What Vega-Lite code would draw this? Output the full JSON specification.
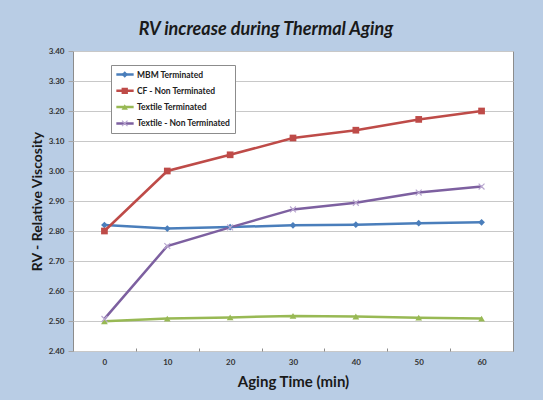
{
  "$schema": "https://vega.github.io/schema/vega-lite/v6.json",
  "width": 440,
  "height": 300,
  "autosize": {"type": "none"},
  "padding": {"left": 73, "top": 51, "right": 30, "bottom": 49},
  "background": "#b9cde5",
  "title": {
    "text": "RV increase during Thermal Aging",
    "font": "Lato",
    "fontSize": 18,
    "fontWeight": "bold",
    "fontStyle": "italic",
    "color": "#1a1a1a",
    "anchor": "middle",
    "dx": -27,
    "offset": 8
  },
  "config": {
    "view": {"fill": "white", "stroke": "#8c8c8c", "strokeWidth": 1},
    "font": "Lato"
  },
  "data": {
    "values": [
      {"t": 0, "series": "MBM Terminated", "rv": 2.82},
      {"t": 10, "series": "MBM Terminated", "rv": 2.808},
      {"t": 20, "series": "MBM Terminated", "rv": 2.813},
      {"t": 30, "series": "MBM Terminated", "rv": 2.819},
      {"t": 40, "series": "MBM Terminated", "rv": 2.821},
      {"t": 50, "series": "MBM Terminated", "rv": 2.826},
      {"t": 60, "series": "MBM Terminated", "rv": 2.829},
      {"t": 0, "series": "CF - Non Terminated", "rv": 2.80},
      {"t": 10, "series": "CF - Non Terminated", "rv": 3.00},
      {"t": 20, "series": "CF - Non Terminated", "rv": 3.054},
      {"t": 30, "series": "CF - Non Terminated", "rv": 3.11},
      {"t": 40, "series": "CF - Non Terminated", "rv": 3.136},
      {"t": 50, "series": "CF - Non Terminated", "rv": 3.172},
      {"t": 60, "series": "CF - Non Terminated", "rv": 3.20},
      {"t": 0, "series": "Textile Terminated", "rv": 2.499},
      {"t": 10, "series": "Textile Terminated", "rv": 2.508},
      {"t": 20, "series": "Textile Terminated", "rv": 2.512},
      {"t": 30, "series": "Textile Terminated", "rv": 2.517},
      {"t": 40, "series": "Textile Terminated", "rv": 2.515},
      {"t": 50, "series": "Textile Terminated", "rv": 2.511},
      {"t": 60, "series": "Textile Terminated", "rv": 2.508},
      {"t": 0, "series": "Textile - Non Terminated", "rv": 2.507},
      {"t": 10, "series": "Textile - Non Terminated", "rv": 2.75},
      {"t": 20, "series": "Textile - Non Terminated", "rv": 2.812},
      {"t": 30, "series": "Textile - Non Terminated", "rv": 2.872},
      {"t": 40, "series": "Textile - Non Terminated", "rv": 2.894},
      {"t": 50, "series": "Textile - Non Terminated", "rv": 2.928},
      {"t": 60, "series": "Textile - Non Terminated", "rv": 2.948}
    ]
  },
  "encoding": {
    "x": {
      "field": "t",
      "type": "ordinal",
      "scale": {"type": "band", "paddingInner": 0, "paddingOuter": 0},
      "axis": {
        "title": "Aging Time (min)",
        "titleFont": "Lato",
        "titleFontSize": 15,
        "titleFontWeight": "bold",
        "titleColor": "#1a1a1a",
        "titlePadding": 8,
        "labelAngle": 0,
        "labelFont": "Lato",
        "labelFontSize": 8,
        "labelFontWeight": "bold",
        "labelColor": "#333333",
        "labelPadding": 10,
        "tickBand": "extent",
        "tickSize": -3,
        "tickColor": "#8c8c8c",
        "domain": false,
        "grid": false
      }
    },
    "y": {
      "field": "rv",
      "type": "quantitative",
      "scale": {"domain": [2.4, 3.4], "nice": false, "zero": false},
      "axis": {
        "title": "RV - Relative Viscosity",
        "titleFont": "Lato",
        "titleFontSize": 14,
        "titleFontWeight": "bold",
        "titleColor": "#1a1a1a",
        "titlePadding": 4,
        "values": [2.4, 2.5, 2.6, 2.7, 2.8, 2.9, 3.0, 3.1, 3.2, 3.3, 3.4],
        "format": ".2f",
        "labelFont": "Lato",
        "labelFontSize": 8,
        "labelFontWeight": "bold",
        "labelColor": "#333333",
        "labelPadding": 4,
        "tickSize": 5,
        "tickColor": "#a6a6a6",
        "gridColor": "#c8c8c8",
        "domain": false
      }
    }
  },
  "layer": [
    {
      "mark": {"type": "line", "strokeWidth": 2.5},
      "encoding": {
        "color": {
          "field": "series",
          "type": "nominal",
          "sort": ["MBM Terminated", "CF - Non Terminated", "Textile Terminated", "Textile - Non Terminated"],
          "scale": {
            "domain": ["MBM Terminated", "CF - Non Terminated", "Textile Terminated", "Textile - Non Terminated"],
            "range": ["#4a7ebb", "#be4b48", "#98b954", "#7d60a0"]
          },
          "legend": {
            "title": null,
            "orient": "none",
            "legendX": 38,
            "legendY": 14,
            "symbolType": "stroke",
            "symbolSize": 300,
            "symbolStrokeWidth": 2.5,
            "labelFont": "Lato",
            "labelFontSize": 8.5,
            "labelFontWeight": "bold",
            "labelColor": "#222222",
            "labelOffset": 2,
            "clipHeight": 11,
            "rowPadding": 5.3,
            "padding": 4,
            "fillColor": "white",
            "strokeColor": "#8c8c8c"
          }
        }
      }
    },
    {
      "mark": {"type": "point", "filled": true, "opacity": 1},
      "encoding": {
        "color": {
          "field": "series",
          "type": "nominal",
          "sort": ["MBM Terminated", "CF - Non Terminated", "Textile Terminated", "Textile - Non Terminated"],
          "scale": {
            "domain": ["MBM Terminated", "CF - Non Terminated", "Textile Terminated", "Textile - Non Terminated"],
            "range": ["#4a7ebb", "#be4b48", "#98b954", "#b9a7d0"]
          },
          "legend": {
            "title": null,
            "orient": "none",
            "legendX": 38,
            "legendY": 14,
            "symbolSize": 40,
            "symbolOffset": 5.5,
            "labelExpr": "''",
            "labelFontSize": 8.5,
            "clipHeight": 11,
            "rowPadding": 5.3,
            "padding": 4
          }
        },
        "shape": {
          "field": "series",
          "type": "nominal",
          "sort": ["MBM Terminated", "CF - Non Terminated", "Textile Terminated", "Textile - Non Terminated"],
          "scale": {
            "domain": ["MBM Terminated", "CF - Non Terminated", "Textile Terminated", "Textile - Non Terminated"],
            "range": ["diamond", "square", "triangle-up", "M-1,-0.75L-0.75,-1L0,-0.25L0.75,-1L1,-0.75L0.25,0L1,0.75L0.75,1L0,0.25L-0.75,1L-1,0.75L-0.25,0Z"]
          },
          "legend": {
            "title": null,
            "orient": "none",
            "legendX": 38,
            "legendY": 14,
            "symbolSize": 40,
            "symbolOffset": 5.5,
            "labelExpr": "''",
            "labelFontSize": 8.5,
            "clipHeight": 11,
            "rowPadding": 5.3,
            "padding": 4
          }
        },
        "size": {"value": 45}
      }
    }
  ],
  "resolve": {"scale": {"color": "independent", "shape": "independent"}, "legend": {"color": "independent", "shape": "independent"}}
}
